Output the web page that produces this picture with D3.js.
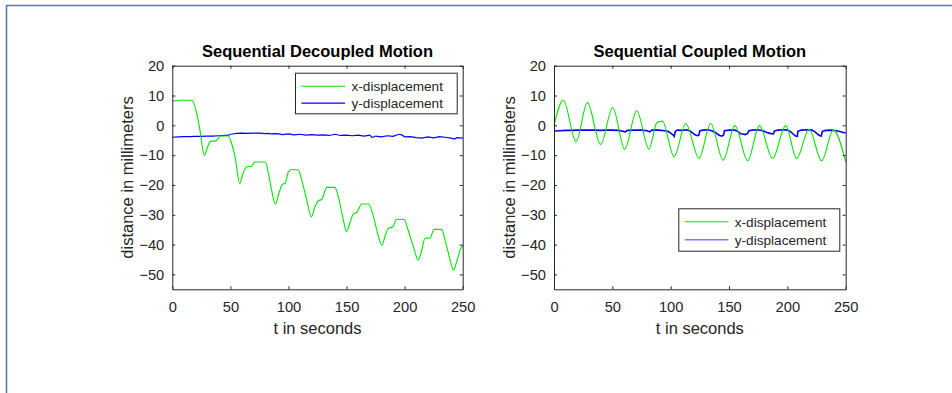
<!DOCTYPE html>
<html>
<head>
<meta charset="utf-8">
<title>Sequential motion</title>
<script src="https://d3js.org/d3.v7.min.js"></script>
<style>
  body { margin: 0; background: #fff; }
  text { font-family: "Liberation Sans", Arial, Helvetica, sans-serif; fill: #262626; }
</style>
</head>
<body>
<svg id="chart" width="952" height="393"></svg>
<script>
    // tick values shared by both panels
    var xTicks = [0, 50, 100, 150, 200, 250];
    var yTicks = [-50, -40, -30, -20, -10, 0, 10, 20];
    var seriesNames = ["x-displacement", "y-displacement"];

    // decoupled motion, [t, mm]
    var decoupledX = [[0, 8.1], [6.6, 8.4], [17, 8.4], [21, 4], [23.8, -1.6], [27.6, -10.1], [30, -7.7],
        [33, -5.3], [36.7, -5.3], [39.6, -4.4], [41, -3.6], [48.2, -3.6], [51, -6], [54, -10.5],
        [58, -19.5], [61, -16], [64, -13.9], [68.3, -13.7], [71, -12.3], [80, -12.3], [82.7, -16],
        [85.5, -21.7], [88.7, -26.4], [91.8, -22.8], [94.7, -19.8], [97, -19.5], [100, -15.6],
        [102.7, -14.8], [108.5, -15], [111, -17.8], [115.7, -25], [119.7, -30.7], [122.8, -27.3],
        [125.7, -25.3], [128.6, -24.9], [132.9, -20.8], [140, -20.8], [143, -24], [146.7, -30.7],
        [150, -35.6], [153.6, -31.8], [155.9, -29.7], [158.7, -29.3], [163, -26.4], [168.8, -26.4],
        [172.5, -29.6], [176, -35.1], [180.5, -40.2], [183.4, -36.8], [186.3, -34.5], [189.7, -34.1],
        [193, -31.6], [196, -31.5], [199.5, -31.6], [203, -35.1], [207.5, -40.7], [211.8, -45.2],
        [214.7, -41.9], [217.6, -37.9], [221.9, -37.8], [225.3, -34.9], [232, -34.9], [234.8, -38.5],
        [238.5, -44.1], [242, -48.6], [244.8, -45.8], [247.7, -41.9], [250, -40.2]];

    var decoupledY = [[0, -4.0], [5, -3.9], [10, -3.8], [15, -3.8], [20, -3.7], [25, -3.7], [30, -3.6],
        [35, -3.6], [40, -3.5], [45, -3.4], [48, -3.4], [50, -3.0], [52, -2.9], [55, -2.7], [60, -2.6],
        [65, -2.7], [70, -2.6], [75, -2.6], [80, -2.8], [83, -2.7], [85, -2.9], [90, -2.8], [95, -3.1],
        [100, -2.9], [105, -3.2], [110, -3.0], [115, -3.3], [120, -3.1], [125, -3.3], [130, -3.2],
        [135, -3.4], [140, -3.0], [145, -3.4], [150, -3.3], [155, -3.5], [160, -3.3], [165, -3.6],
        [170, -3.3], [172, -4.1], [175, -3.6], [180, -3.9], [185, -3.5], [190, -3.7], [195, -3.0],
        [198, -3.3], [200, -3.9], [205, -3.8], [210, -4.1], [215, -4.3], [220, -3.9], [225, -4.2],
        [230, -3.8], [235, -4.0], [240, -4.3], [243, -4.6], [245, -4.1], [250, -4.3]];

    // coupled motion, [t, mm]
    var coupledX = [[0, -0.1], [8, 8.5], [18.9, -5.5], [28.6, 7.6], [40, -6.4], [50.3, 6.0], [60.6, -8],
        [70.9, 4.9], [81.4, -8], [88, 0.8], [90, 1.2], [92.9, 1.4], [102.9, -10.5], [112.9, 0.6],
        [124.3, -11.1], [134.3, 0.6], [145, -11.7], [155, -0.1], [166, -11.9], [176, -0.1],
        [187.4, -11.1], [198.6, -0.1], [208, -11.1], [218.6, -1.3], [229.4, -11.9], [239.4, -1.6],
        [250, -12.2]];

    var coupledY = [[0, -1.9], [5, -1.8], [10, -1.7], [15, -1.7], [20, -1.6], [25, -1.6], [30, -1.6],
        [35, -1.6], [40, -1.7], [45, -1.6], [50, -1.6], [55, -1.7], [58, -1.9], [61, -2.2], [63, -1.7],
        [70, -1.6], [75, -1.6], [80, -1.8], [82, -2.2], [84, -1.6], [90, -1.6], [95, -1.8], [98, -2.1],
        [100, -2.6], [102, -3.2], [103, -3.7], [104, -2.0], [106, -1.6], [110, -1.7], [114, -1.5],
        [117, -2.0], [119, -2.6], [121, -3.2], [123, -3.5], [124, -3.4], [125, -1.8], [128, -1.6],
        [132, -1.5], [135, -1.8], [138, -2.3], [140, -2.9], [142, -3.4], [144, -3.6], [145.5, -3.2],
        [146, -1.8], [150, -1.6], [155, -1.6], [158, -2.2], [160, -2.8], [162, -2.9], [164, -3.1],
        [166, -2.7], [167, -1.8], [170, -1.6], [175, -1.5], [179, -1.8], [182, -2.3], [185, -2.7],
        [188, -2.9], [189, -1.9], [192, -1.6], [196, -1.5], [200, -1.6], [203, -2.2], [205, -2.9],
        [207, -3.6], [208.5, -3.7], [209, -2.0], [212, -1.6], [217, -1.5], [221, -1.6], [224, -2.3],
        [226, -3.0], [228, -3.5], [229, -3.6], [230, -2.0], [233, -1.7], [238, -1.6], [242, -1.8],
        [245, -2.1], [248, -2.4], [250, -2.6]];

    var svg = d3.select("#chart");

    // page frame (top and left edge)
    svg.append("path")
        .attr("d", "M6.5,393V5.5H952")
        .attr("fill", "none")
        .attr("stroke", "#5b7ba6")
        .attr("stroke-width", 1.6);

    var axColor = "#262626";
    var plotTop = 65.7, plotBottom = 289.3;

    panel({
        left: 172.3, right: 462.7,
        title: "Sequential Decoupled Motion",
        xs: decoupledX, ys: decoupledY,
        legend: {x: 295, y: 72.7, w: 161.7, h: 40.6},
        yColorLegend: "#0000ff", yWidth: 1.2
    });

    panel({
        left: 554, right: 845.7,
        title: "Sequential Coupled Motion",
        xs: coupledX, ys: coupledY,
        legend: {x: 678.3, y: 208.3, w: 161, h: 42.4},
        yColorLegend: "#7b7bff", yWidth: 1.6
    });

    function panel(p) {
        var x = d3.scaleLinear().domain([0, 250]).range([p.left, p.right]);
        var y = d3.scaleLinear().domain([-55, 20]).range([plotBottom, plotTop]);
        var g = svg.append("g");

        var line = d3.line()
            .x(d => x(d[0]))
            .y(d => y(d[1]));

        g.append("path")
            .datum(p.ys)
            .attr("fill", "none")
            .attr("stroke", "#0000ff")
            .attr("stroke-width", p.yWidth)
            .attr("d", line.curve(d3.curveLinear));

        g.append("path")
            .datum(p.xs)
            .attr("fill", "none")
            .attr("stroke", "#00e600")
            .attr("stroke-width", 1.1)
            .attr("d", line.curve(d3.curveMonotoneX));

        // box axes with inward ticks
        var tl = 3;
        var gb = g.append("g").attr("transform", `translate(0,${plotBottom})`)
            .call(d3.axisBottom(x).tickValues(xTicks).tickSizeInner(-tl).tickSizeOuter(0).tickPadding(12));
        var gt = g.append("g").attr("transform", `translate(0,${plotTop})`)
            .call(d3.axisTop(x).tickValues(xTicks).tickSizeInner(-tl).tickSizeOuter(0).tickFormat(""));
        var gl = g.append("g").attr("transform", `translate(${p.left},0)`)
            .call(d3.axisLeft(y).tickValues(yTicks).tickSizeInner(-tl).tickSizeOuter(0).tickPadding(8));
        var gr = g.append("g").attr("transform", `translate(${p.right},0)`)
            .call(d3.axisRight(y).tickValues(yTicks).tickSizeInner(-tl).tickSizeOuter(0).tickFormat(""));

        [gb, gt, gl, gr].forEach(a => {
            a.select(".domain").attr("stroke", axColor);
            a.selectAll(".tick line").attr("stroke", axColor);
            a.selectAll(".tick text")
                .style("font-size", "14.7px")
                .attr("fill", axColor);
        });
        gb.selectAll(".tick text").attr("dy", "0.71em");

        // title and labels
        var cx = (p.left + p.right) / 2;
        g.append("text")
            .attr("x", cx).attr("y", 56.5)
            .attr("text-anchor", "middle")
            .style("font-size", "16.5px")
            .style("font-weight", "bold")
            .style("fill", "#000")
            .text(p.title);

        g.append("text")
            .attr("x", cx).attr("y", 334)
            .attr("text-anchor", "middle")
            .style("font-size", "16.5px")
            .text("t in seconds");

        g.append("text")
            .attr("transform", `translate(${p.left - 39.5},${(plotTop + plotBottom) / 2}) rotate(-90)`)
            .attr("text-anchor", "middle")
            .style("font-size", "16.5px")
            .text("distance in millimeters");

        // legend
        var L = p.legend;
        var lg = g.append("g").attr("transform", `translate(${L.x},${L.y})`);
        lg.append("rect")
            .attr("x", 0.5).attr("y", 0.5)
            .attr("width", L.w).attr("height", L.h)
            .attr("fill", "#fff")
            .attr("stroke", axColor)
            .attr("stroke-width", 1);
        var colors = ["#00e600", p.yColorLegend];
        seriesNames.forEach((name, i) => {
            var ly = Math.round(L.h * (i === 0 ? 0.31 : 0.74)) + 0.5;
            lg.append("line")
                .attr("x1", 6.5).attr("x2", 50)
                .attr("y1", ly).attr("y2", ly)
                .attr("stroke", colors[i])
                .attr("stroke-width", i === 0 ? 1.1 : p.yWidth);
            lg.append("text")
                .attr("x", 56.5).attr("y", ly)
                .attr("dy", "0.35em")
                .style("font-size", "13.6px")
                .text(name);
        });
    }
</script>
</body>
</html>
